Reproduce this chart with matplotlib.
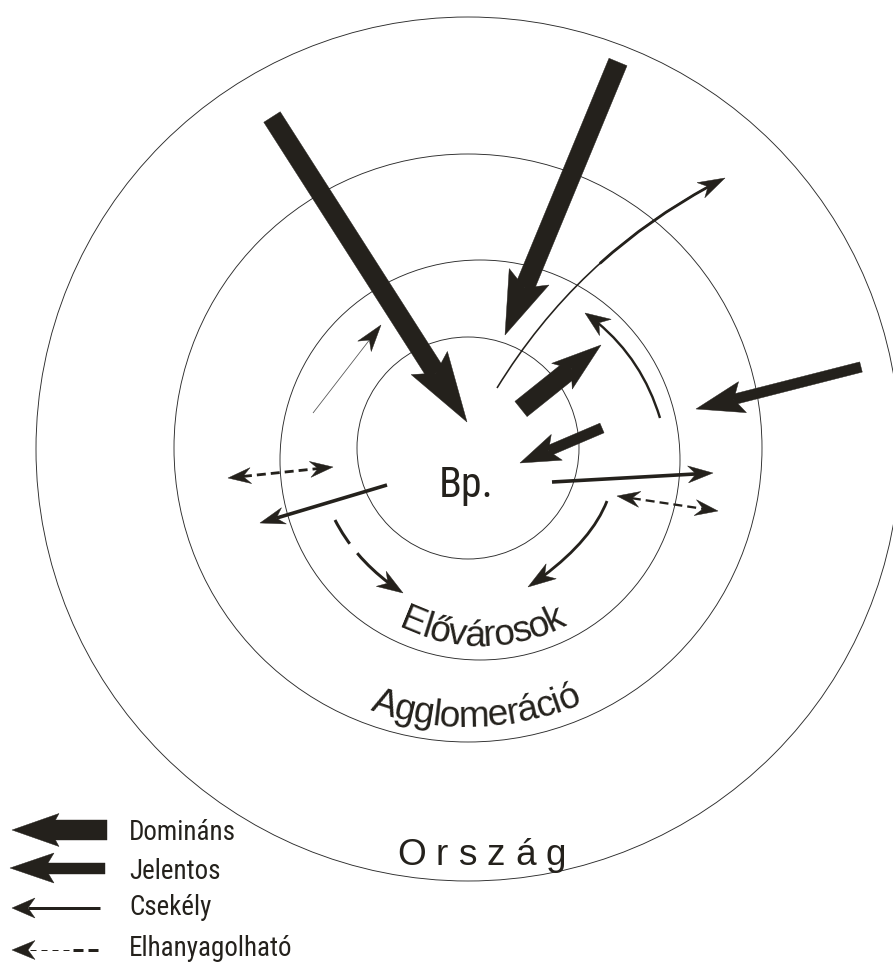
import numpy as np
import matplotlib
matplotlib.use("Agg")
import matplotlib.pyplot as plt
from matplotlib.patches import Polygon, Circle, PathPatch
from matplotlib.path import Path
from matplotlib.lines import Line2D
from matplotlib import font_manager
from matplotlib.ft2font import FT2Font
from matplotlib.bezier import (split_bezier_intersecting_with_closedpath, inside_circle,
                               split_de_casteljau)

plt.rcParams['lines.scale_dashes'] = False

# ---------------- data ----------------
# concentric zones: centre and radius (pixels)
zone_names = ["Bp.", "Elővárosok", "Agglomeráció", "Ország"]
zone_cx = [468, 480, 468, 468]
zone_cy = [448, 460, 448, 449]
zone_r = [111, 200, 294, 432]

# Domináns flows: tail -> tip
dom_tail = [(272, 117), (618, 62), (521, 409)]
dom_tip = [(467, 422), (505, 335), (601, 345)]
# Jelentős flows
jel_tail = [(602, 428), (861, 367)]
jel_tip = [(520, 463), (696, 409)]
# Csekély straight flows
cse_tail = [(387, 485), (552, 482)]
cse_tip = [(260, 523), (713, 473)]
# very thin flow
thin_tail = [(313, 413)]
thin_tip = [(381, 325)]
# Elhanyagolható two-way flows
elh_a = [(228, 478), (617, 496)]
elh_b = [(333, 467), (718, 511)]
# Csekély curved flows: start, control, tip
cur_start = [(497, 388), (660, 418), (607, 501), (335, 520)]
cur_ctrl = [(581, 251), (640, 352), (590, 545), (357, 563)]
cur_tip = [(725, 178), (585, 313), (528, 587), (403, 593)]

legend_labels = ["Domináns", "Jelentos", "Csekély", "Elhanyagolható"]

# ---------------- style ----------------
INK = '#24211c'
PX = 0.72  # points per pixel at dpi 100

names = {f.name for f in font_manager.fontManager.ttflist}
REG = 'Liberation Sans'
COND = None
for cand in ['Liberation Sans Narrow', 'Roboto Condensed', 'Open Sans Condensed',
             'Noto Sans Condensed', 'DejaVu Sans Condensed']:
    if cand in names:
        COND = cand
        break

fig = plt.figure(figsize=(8.93, 9.64), dpi=100)
ax = fig.add_axes([0, 0, 1, 1])
ax.set_xlim(0, 893)
ax.set_ylim(964, 0)
ax.axis('off')

_fonts = {}
def advance(ch, family, size_px):
    if family not in _fonts:
        path = font_manager.findfont(font_manager.FontProperties(family=family))
        _fonts[family] = FT2Font(path)
    f = _fonts[family]
    f.set_size(size_px, 72)
    g = f.load_char(ord(ch))
    return g.linearHoriAdvance / 65536.0

def tracked_text(x, y, s, size_px, family, track=0.0, **kw):
    for ch in s:
        ax.text(x, y, ch, fontsize=size_px * PX, family=family, color=INK,
                ha='left', va='baseline', **kw)
        x += advance(ch, family, size_px) + track

def arc_text(s, cx, cy, r, center_deg, size_px, family, track=0.0):
    advs = [advance(c, family, size_px) for c in s]
    total = sum(advs) + track * (len(s) - 1)
    pos = -total / 2
    for c, a in zip(s, advs):
        mid = pos + a / 2
        th = center_deg + np.degrees(mid / r)
        t = np.radians(th)
        x = cx + r * np.sin(t)
        y = cy + r * np.cos(t)
        ax.text(x, y, c, rotation=th, rotation_mode='anchor', ha='center',
                va='baseline', fontsize=size_px * PX, family=family, color=INK)
        pos += a + track

def unit(a, b):
    a = np.asarray(a, float); b = np.asarray(b, float)
    d = b - a
    return d / np.hypot(*d)

def head(tip, u, L, W, N, color=INK):
    tip = np.asarray(tip, float)
    n = np.array([-u[1], u[0]])
    base = tip - u * L
    pts = [tip, base + n * W / 2, tip - u * (L - N), base - n * W / 2]
    ax.add_patch(Polygon(pts, closed=True, fc=color, ec=color, lw=0.3, zorder=4))

def block_arrow(tail, tip, sw, L, W, N):
    u = unit(tail, tip)
    n = np.array([-u[1], u[0]])
    tail = np.asarray(tail, float); tipa = np.asarray(tip, float)
    end = tipa - u * (L - N)
    pts = [tail + n * sw / 2, end + n * sw / 2, end - n * sw / 2, tail - n * sw / 2]
    ax.add_patch(Polygon(pts, closed=True, fc=INK, ec=INK, lw=0.3, zorder=4))
    head(tip, u, L, W, N)

def line_arrow(tail, tip, lw_px, L, W, N, color=INK, lcolor=None):
    u = unit(tail, tip)
    end = np.asarray(tip, float) - u * (L - N)
    ln = Line2D([tail[0], end[0]], [tail[1], end[1]], lw=lw_px * PX,
                color=lcolor or color, solid_capstyle='butt', zorder=3)
    ax.add_line(ln)
    head(tip, u, L, W, N, color)

def double_dashed(a, b, lw_px, L, W, N, dashes):
    u = unit(a, b)
    s = np.asarray(a, float) + u * (L - N)
    e = np.asarray(b, float) - u * (L - N)
    ln = Line2D([s[0], e[0]], [s[1], e[1]], lw=lw_px * PX, color=INK,
                dash_capstyle='butt', zorder=3)
    ln.set_dashes([d * PX for d in dashes])
    ax.add_line(ln)
    head(a, -u, L, W, N)
    head(b, u, L, W, N)

def curved_arrow(p0, p1, tip, lw_px, L, W, N, dashes=None, lw_end=None):
    bez = np.array([p0, p1, tip], float)
    left, right = split_bezier_intersecting_with_closedpath(
        bez, inside_circle(tip[0], tip[1], L - N - 1), tolerance=0.2)
    left = np.asarray(left)
    path = Path(left, [Path.MOVETO, Path.CURVE3, Path.CURVE3])
    pp = PathPatch(path, fc='none', ec=INK, lw=lw_px * PX, capstyle='butt', zorder=3)
    if dashes:
        pp.set_linestyle((0, [d * PX for d in dashes]))
    ax.add_patch(pp)
    if lw_end:
        # thicker end part of a tapering stroke
        _, second = split_de_casteljau(left, 0.55)
        p2 = Path(np.asarray(second), [Path.MOVETO, Path.CURVE3, Path.CURVE3])
        ax.add_patch(PathPatch(p2, fc='none', ec=INK, lw=lw_end * PX,
                               capstyle='round', zorder=3))
    u = unit(p1, tip)
    head(tip, u, L, W, N)

# ---------------- zones ----------------
for cx, cy, r in zip(zone_cx, zone_cy, zone_r):
    ax.add_patch(Circle((cx, cy), r, fc='none', ec='#2a2a2a', lw=0.9 * PX, zorder=1))

# ---------------- flows ----------------
dom_L = [70, 63, 50]
dom_W = [43, 43, 33]
for i, (t, h) in enumerate(zip(dom_tail, dom_tip)):
    block_arrow(t, h, 19.5, dom_L[i], dom_W[i], 12)

jel_L = [40, 48]
jel_W = [28, 32]
for i, (t, h) in enumerate(zip(jel_tail, jel_tip)):
    block_arrow(t, h, 10.5, jel_L[i], jel_W[i], 9)

for t, h in zip(cse_tail, cse_tip):
    line_arrow(t, h, 3.6, 25, 17, 8)

for t, h in zip(thin_tail, thin_tip):
    line_arrow(t, h, 0.8, 27, 17, 8, lcolor='#555555')

elh_lw = [2.8, 2.3]
for i, (a, b) in enumerate(zip(elh_a, elh_b)):
    double_dashed(a, b, elh_lw[i], 23, 16, 8, (9, 5))

cur_lw = [1.6, 2.4, 2.8, 3.0]
cur_end = [2.8, None, None, None]
cur_L = [27, 25, 28, 26]
cur_W = [17, 20, 18, 18]
cur_dash = [None, None, None, (28, 12, 400, 1)]
for i in range(len(cur_start)):
    curved_arrow(cur_start[i], cur_ctrl[i], cur_tip[i], cur_lw[i], cur_L[i], cur_W[i], 8,
                 dashes=cur_dash[i], lw_end=cur_end[i])

# ---------------- zone labels ----------------
if COND:
    ax.text(439, 497, zone_names[0], fontsize=42 * PX, family=COND, color=INK,
            ha='left', va='baseline')
else:
    ax.text(440, 497, zone_names[0], fontsize=39 * PX, family=REG, color=INK,
            ha='left', va='baseline')
arc_text(zone_names[1], zone_cx[1], zone_cy[1], 186, 1.0, 37, REG, track=-0.8)
arc_text(zone_names[2], zone_cx[2], zone_cy[2], 279, 1.8, 37, REG, track=-0.8)
tracked_text(397, 865, zone_names[3], 37, REG, track=10)

# ---------------- legend ----------------
block_arrow((107, 830), (12, 830), 20, 47, 33, 9)
block_arrow((105, 868), (10, 868), 11, 44, 30, 9)
line_arrow((100, 908), (12, 908), 3.0, 23, 20, 7)
# Elhanyagolható: thin dashes then thick dashes
head((12, 950), np.array([-1.0, 0.0]), 23, 19, 7)
l1 = Line2D([30, 70], [950, 950], lw=1.0 * PX, color=INK, dash_capstyle='butt')
l1.set_dashes([6 * PX, 5 * PX])
ax.add_line(l1)
l2 = Line2D([73, 100], [950, 950], lw=3.0 * PX, color=INK, dash_capstyle='butt')
l2.set_dashes([10 * PX, 5 * PX])
ax.add_line(l2)

leg_base = [840, 879, 915, 956]
leg_family = COND or REG
leg_size = 27 if COND else 24
for lab, yb in zip(legend_labels, leg_base):
    ax.text(129, yb, lab, fontsize=leg_size * PX, family=leg_family, color=INK,
            ha='left', va='baseline')

fig.savefig('out.png', dpi=100)
